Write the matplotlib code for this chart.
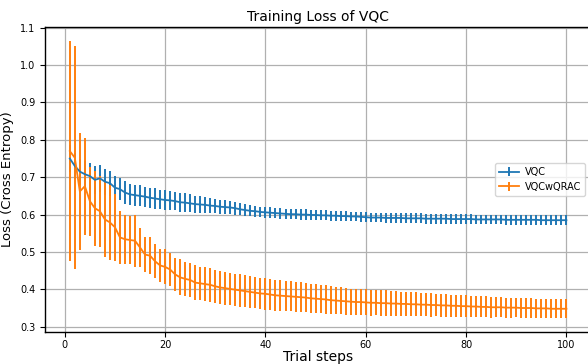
import matplotlib
matplotlib.use("Agg")
import matplotlib.pyplot as plt
import numpy as np

steps = list(range(1, 101))

vqc_mean = [
    0.750, 0.730, 0.715, 0.708, 0.703, 0.693, 0.697, 0.688, 0.684, 0.672,
    0.668, 0.659, 0.654, 0.652, 0.650, 0.648, 0.645, 0.643, 0.641, 0.639,
    0.638, 0.636, 0.633, 0.632, 0.630, 0.628, 0.627, 0.626, 0.624, 0.623,
    0.621, 0.620, 0.619, 0.617, 0.614, 0.612, 0.610, 0.609, 0.607, 0.606,
    0.605, 0.604, 0.603, 0.602, 0.601, 0.601, 0.600, 0.600, 0.599, 0.599,
    0.598, 0.598, 0.597, 0.597, 0.596, 0.596, 0.595, 0.595, 0.594, 0.593,
    0.592, 0.592, 0.592, 0.591, 0.591, 0.591, 0.591, 0.590, 0.590, 0.590,
    0.590, 0.589, 0.589, 0.589, 0.589, 0.589, 0.588, 0.588, 0.588, 0.588,
    0.588, 0.587, 0.587, 0.587, 0.587, 0.587, 0.587, 0.586, 0.586, 0.586,
    0.586, 0.586, 0.586, 0.586, 0.585, 0.585, 0.585, 0.585, 0.585, 0.585,
]
vqc_std = [
    0.035, 0.035, 0.035, 0.036, 0.036, 0.038, 0.036, 0.035, 0.033, 0.032,
    0.030, 0.030, 0.028, 0.028, 0.028, 0.027, 0.027, 0.027, 0.026, 0.026,
    0.026, 0.025, 0.025, 0.025, 0.024, 0.023, 0.022, 0.021, 0.020, 0.019,
    0.019, 0.018, 0.017, 0.017, 0.016, 0.016, 0.015, 0.015, 0.014, 0.014,
    0.014, 0.014, 0.014, 0.014, 0.014, 0.014, 0.014, 0.014, 0.013, 0.013,
    0.013, 0.013, 0.013, 0.013, 0.013, 0.013, 0.013, 0.013, 0.013, 0.013,
    0.013, 0.013, 0.013, 0.013, 0.013, 0.013, 0.013, 0.013, 0.013, 0.013,
    0.013, 0.013, 0.013, 0.013, 0.013, 0.013, 0.013, 0.013, 0.013, 0.013,
    0.013, 0.013, 0.013, 0.013, 0.013, 0.013, 0.013, 0.013, 0.014, 0.014,
    0.014, 0.014, 0.014, 0.014, 0.014, 0.014, 0.014, 0.014, 0.014, 0.014,
]

qrac_mean = [
    0.770, 0.752, 0.662, 0.676, 0.636, 0.617, 0.609, 0.587, 0.579, 0.566,
    0.539, 0.534, 0.532, 0.530, 0.512, 0.493, 0.490, 0.475, 0.464, 0.460,
    0.453, 0.440, 0.432, 0.428, 0.425, 0.418, 0.416, 0.414, 0.412, 0.408,
    0.405, 0.403, 0.401, 0.399, 0.397, 0.395, 0.393, 0.391, 0.389, 0.388,
    0.386, 0.384, 0.383, 0.382, 0.381, 0.380, 0.379, 0.378, 0.376, 0.375,
    0.374, 0.373, 0.371, 0.370, 0.369, 0.368, 0.367, 0.366, 0.366, 0.365,
    0.364, 0.364, 0.363, 0.363, 0.362, 0.362, 0.361, 0.361, 0.360, 0.360,
    0.359, 0.359, 0.358, 0.358, 0.357, 0.357, 0.356, 0.356, 0.355, 0.355,
    0.354, 0.354, 0.353, 0.353, 0.352, 0.352, 0.352, 0.351, 0.351, 0.351,
    0.350, 0.350, 0.350, 0.349, 0.349, 0.349, 0.348, 0.348, 0.348, 0.348,
]
qrac_std = [
    0.295, 0.298, 0.156, 0.130, 0.092, 0.100, 0.095, 0.100, 0.100, 0.090,
    0.070, 0.065, 0.065, 0.070, 0.052, 0.046, 0.050, 0.046, 0.044, 0.047,
    0.045, 0.045, 0.048, 0.046, 0.046, 0.046, 0.045, 0.045, 0.045, 0.044,
    0.044, 0.044, 0.043, 0.043, 0.043, 0.043, 0.042, 0.042, 0.042, 0.042,
    0.042, 0.041, 0.041, 0.041, 0.040, 0.040, 0.040, 0.039, 0.039, 0.039,
    0.038, 0.038, 0.037, 0.037, 0.036, 0.036, 0.035, 0.035, 0.035, 0.035,
    0.035, 0.034, 0.034, 0.034, 0.033, 0.033, 0.033, 0.032, 0.032, 0.032,
    0.031, 0.031, 0.031, 0.030, 0.030, 0.030, 0.030, 0.029, 0.029, 0.029,
    0.029, 0.028, 0.028, 0.028, 0.028, 0.027, 0.027, 0.027, 0.027, 0.026,
    0.026, 0.026, 0.026, 0.026, 0.025, 0.025, 0.025, 0.025, 0.025, 0.025,
]

labels = ["VQC", "VQCwQRAC"]
colors = ["#1f77b4", "#ff7f0e"]

fig = plt.figure(figsize=(5.88, 3.64), dpi=100)
ax = fig.add_axes([0.0765, 0.088, 0.929, 0.838])

ax.errorbar(steps, vqc_mean, yerr=vqc_std, color=colors[0], label=labels[0],
            linewidth=1.3, elinewidth=1.4)
ax.errorbar(steps, qrac_mean, yerr=qrac_std, color=colors[1], label=labels[1],
            linewidth=1.3, elinewidth=1.4)

ax.grid(True, color="#b0b0b0", linewidth=0.9)
ax.set_axisbelow(True)
ax.set_yticks([0.3, 0.4, 0.5, 0.6, 0.7, 0.8, 0.9, 1.0, 1.1])
ax.set_xticks([0, 20, 40, 60, 80, 100])
ax.tick_params(labelsize=7, length=3.5, width=0.8)
ax.tick_params(axis="x", pad=2)
for s in ax.spines.values():
    s.set_color("black")
    s.set_linewidth(1.0)

ax.set_title("Training Loss of VQC", fontsize=10, pad=4)
ax.set_xlabel("Trial steps", fontsize=10, labelpad=0)
ax.set_ylabel("Loss (Cross Entropy)", fontsize=9.5, labelpad=4)
ax.legend(loc="center right", fontsize=7, framealpha=0.8,
          borderaxespad=0.65, handletextpad=0.6)

fig.savefig("out.png", dpi=100)
